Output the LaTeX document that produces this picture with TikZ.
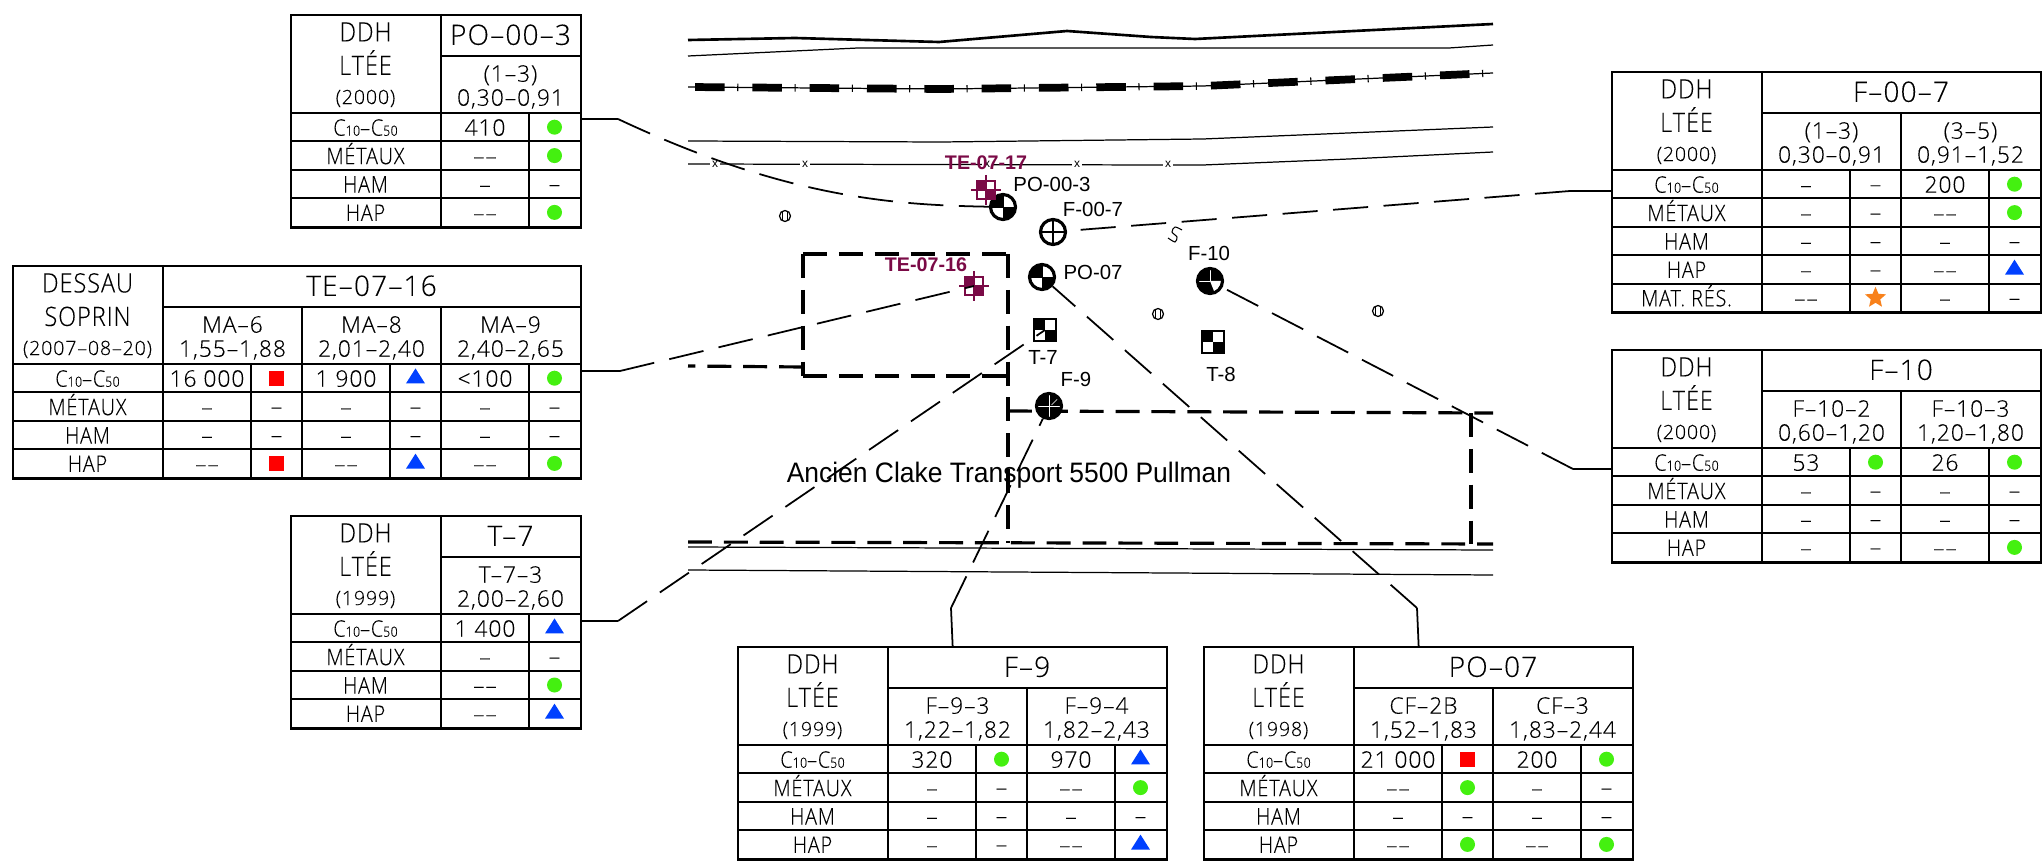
\documentclass[tikz,border=0pt]{standalone}
\usepackage{fontspec}
\setmainfont{Liberation Sans}
\newfontfamily\cadfont[LetterSpace=4,FakeBold=0.12]{Open Sans Light}
\usetikzlibrary{shapes.geometric}

\definecolor{wellgreen}{HTML}{44F010}
\definecolor{wellblue}{HTML}{0040FF}
\definecolor{wellorange}{HTML}{F8811B}
\definecolor{tecolor}{HTML}{7A0A46}

\tikzset{
    tablebox/.style={rectangle,draw,line width=0.65pt,inner sep=0pt,anchor=north west},
    tabrule/.style={line width=0.55pt},
    bigtxt/.style={inner sep=0pt,text height=5.1pt,text depth=0pt,xscale=0.88,font=\cadfont\fontsize{7.6}{8}\selectfont},
    smalltxt/.style={inner sep=0pt,text height=4pt,text depth=0pt,font=\cadfont\fontsize{5.6}{6}\selectfont},
    titletxt/.style={inner sep=0pt,text height=5.6pt,text depth=0pt,font=\cadfont\fontsize{8}{9}\selectfont},
    rowtxt/.style={inner sep=0pt,text height=4.4pt,text depth=0pt,xscale=0.87,font=\cadfont\fontsize{6.5}{7}\selectfont},
    celltxt/.style={inner sep=0pt,text height=4.4pt,text depth=0pt,font=\cadfont\fontsize{6.5}{7}\selectfont},
    markg/.style={circle,fill=wellgreen,inner sep=0pt,minimum size=1.5mm},
    markb/.style={isosceles triangle,isosceles triangle stretches,shape border rotate=90,fill=wellblue,inner sep=0pt,minimum width=1.9mm,minimum height=1.5mm},
    markr/.style={rectangle,fill=red,inner sep=0pt,minimum size=1.5mm},
    marks/.style={star,star points=5,star point ratio=2.2,fill=wellorange,inner sep=0pt,minimum size=2.2mm},
    markn/.style={celltxt,execute at begin node=–},
    leader/.style={line width=0.5pt,dash pattern=on 10pt off 4.4pt},
    tabline/.style={line width=0.5pt},
    bound/.style={line width=0.9pt,dash pattern=on 6.8pt off 3.4pt},
    thinline/.style={line width=0.35pt},
    wellbase/.style={circle,draw,line width=0.9pt,fill=white,inner sep=0pt,minimum size=2.5mm},
    wellsym/.style={wellbase,
        path picture={\draw[line width=0.4pt] (path picture bounding box.north) -- (path picture bounding box.south)
            (path picture bounding box.west) -- (path picture bounding box.east);}},
    wellfill/.style={wellbase,
        path picture={\fill[black] (path picture bounding box.center) rectangle (path picture bounding box.north west);
            \fill[black] (path picture bounding box.center) rectangle (path picture bounding box.south east);
            \draw[line width=0.2pt] (path picture bounding box.north) -- (path picture bounding box.south)
            (path picture bounding box.west) -- (path picture bounding box.east);}},
    wellthree/.style={wellbase,
        path picture={\fill[black] (path picture bounding box.south west) rectangle (path picture bounding box.north east);
            \fill[white] (path picture bounding box.center) -- (path picture bounding box.east) -- ([xshift=0.5mm]path picture bounding box.south) -- cycle;
            \draw[white,line width=0.15pt] (path picture bounding box.north) -- (path picture bounding box.center)
            (path picture bounding box.west) -- (path picture bounding box.center);}},
    wellcross/.style={wellbase,
        path picture={\fill[black] (path picture bounding box.south west) rectangle (path picture bounding box.north east);
            \draw[white,line width=0.2pt] (path picture bounding box.north) -- (path picture bounding box.south)
            (path picture bounding box.west) -- (path picture bounding box.east);
            \draw[white,line width=0.15pt] (path picture bounding box.center) ++(0.25mm,0.1mm) -- ++(0.6mm,0.6mm);}},
    pitsym/.style={rectangle,draw,line width=0.6pt,inner sep=0pt,minimum size=2.2mm,
        path picture={\fill (path picture bounding box.center) rectangle (path picture bounding box.north west);
            \fill (path picture bounding box.center) rectangle (path picture bounding box.south east);}},
    tesym/.style={rectangle,draw=tecolor,line width=0.5pt,inner sep=0pt,minimum size=1.8mm,
        path picture={\fill[tecolor] (path picture bounding box.center) rectangle (path picture bounding box.north west);
            \fill[tecolor] (path picture bounding box.center) rectangle (path picture bounding box.south east);}},
    maplabel/.style={inner sep=0pt,font=\fontsize{5.8}{6}\selectfont},
    telabel/.style={inner sep=0pt,text=tecolor,font=\bfseries\fontsize{5.6}{7}\selectfont},
    fencex/.style={inner sep=0.5pt,fill=white,font=\fontsize{3.4}{4}\selectfont},
    minisym/.style={circle,draw,line width=0.35pt,inner sep=0pt,minimum size=1.1mm,
        path picture={\draw[line width=0.3pt] ([xshift=-0.25mm]path picture bounding box.north) -- ([xshift=-0.25mm]path picture bounding box.south)
            ([xshift=0.25mm]path picture bounding box.north) -- ([xshift=0.25mm]path picture bounding box.south);}}
}

% grid of one table, left column and row names
\newcommand{\ddhtable}[9]{
    \pgfmathsetmacro\tabw{151+139*#8}
    \pgfmathsetmacro\tabh{99+28.4*#9}
    \node (#1) [tablebox,minimum width=\tabw*0.01cm,minimum height=\tabh*0.01cm] at (#2,#3) {};
    \begin{scope}[shift={(#1.north west)}]
        \draw[tabrule] (151,0) -- (151,\tabh);
        \draw[tabrule] (151,42) -- (\tabw,42);
        \draw[tabrule] (0,99) -- (\tabw,99);
        \foreach \r in {1,...,#9}
            \draw[tabrule] (0,99+28.4*\r) -- (\tabw,99+28.4*\r);
        \node (#1-a) [bigtxt] at (75.5,18.5) {#4};
        \node (#1-b) [bigtxt] at (75.5,52) {#5};
        \node (#1-c) [smalltxt] at (75.5,83) {#6};
        \node (#1-title) [titletxt] at ({(151+\tabw)/2},21) {#7};
        \foreach \lab [count=\r] in {C{\fontsize{4}{4}\selectfont 10}–C{\fontsize{4}{4}\selectfont 50},MÉTAUX,HAM,HAP,MAT. RÉS.} {
            \ifnum\r>#9 \else
                \node (#1-r\r) [rowtxt] at (75.5,99+28.4*\r-13.4) {\lab};
            \fi
        }
    \end{scope}
}

% one sample: table, index, two header lines, value/mark per row
\newcommand{\ddhsample}[5]{
    \begin{scope}[shift={(#1.north west)}]
        \pgfmathsetmacro\sx{151+139*#2}
        \draw[tabrule] (\sx,42) -- (\sx,42 |- #1.south);
        \draw[tabrule] (\sx+88,99) -- (\sx+88,99 |- #1.south);
        \node (#1-s#2a) [celltxt] at (\sx+69.5,60) {#3};
        \node (#1-s#2b) [celltxt] at (\sx+69.5,84) {#4};
        \foreach \val/\m [count=\r] in {#5} {
            \node (#1-s#2v\r) [celltxt] at (\sx+44,99+28.4*\r-13.4) {\val};
            \node (#1-s#2m\r) [mark\m] at (\sx+113.5,99+28.4*\r-14.2) {};
        }
    \end{scope}
}

\begin{document}
\begin{tikzpicture}[x=0.01cm,y=-0.01cm]
    \useasboundingbox (0,0) rectangle (2042,867);

    % road and fence lines
    \draw[line width=0.75pt] (688,40) -- (795,38) -- (939,42) -- (1067,31) -- (1151,37) -- (1195,39) -- (1493,24);
    \draw[thinline] (688,56) -- (858,48) -- (1449,48) -- (1493,45);
    \draw[thinline] (688,87) -- (941,89) -- (1203,86) -- (1493,73);
    \draw[line width=2.2pt,dash pattern=on 8.4pt off 7.9pt,dash phase=-2pt] (688,87) -- (941,89) -- (1203,86) -- (1493,73);
    \draw[line width=2.1pt,dash pattern=on 0.3pt off 16pt,dash phase=-14pt] (688,87) -- (941,89) -- (1203,86) -- (1493,73);
    \draw[thinline] (688,141) -- (941,142) -- (1203,139) -- (1493,127);
    \draw[thinline] (688,164) -- (1166,165) -- (1203,165) -- (1349,159) -- (1493,152);
    \draw[thinline] (688,547) -- (1493,550);
    \draw[thinline] (688,570) -- (1493,575);
    \foreach \x [count=\i] in {715,805,987,1077,1168}
        \node (fence\i) [fencex] at (\x,164.5) {x};

    % dashed limits
    \draw[bound] (803,254) -- (1008,254);
    \draw[bound] (803,254) -- (803,376);
    \draw[bound] (803,376) -- (1008,376);
    \draw[bound] (1008,254) -- (1008,543);
    \draw[bound] (803,367) -- (688,366);
    \draw[bound] (1008,411) -- (1493,413);
    \draw[bound] (1471,413) -- (1471,544);
    \draw[bound] (688,542) -- (1493,544);

    \foreach \x/\y [count=\i] in {785/216,1158/314,1378/311}
        \node (mini\i) [minisym] at (\x,\y) {};
    \draw[line width=0.3pt] plot[smooth] coordinates {(1182,230) (1175,227) (1172,232) (1177,237) (1175,242) (1168,238)};

    % wells
    \node (po003) [wellfill] at (1003,207) {};
    \node (f007) [wellsym] at (1053,232) {};
    \node (po07) [wellfill] at (1042,277) {};
    \node (f10) [wellthree] at (1210,281) {};
    \node (f9) [wellcross] at (1049,406) {};
    \node (t7) [pitsym] at (1045,330) {};
    \node (t8) [pitsym] at (1213,342) {};

    % test pits
    \foreach \n/\x/\y in {te0717/986/190,te0716/974/286} {
        \node (\n) [tesym] at (\x,\y) {};
        \draw[tecolor,line width=0.4pt] (\x-15,\y) -- (\x+15,\y) (\x,\y-15) -- (\x,\y+15);
    }

    \node (lpo003) [maplabel] at (1052,184) {PO-00-3};
    \node (lf007) [maplabel] at (1093,209) {F-00-7};
    \node (lpo07) [maplabel] at (1093,272) {PO-07};
    \node (lf10) [maplabel] at (1209,253) {F-10};
    \node (lt7) [maplabel] at (1043,357) {T-7};
    \node (lt8) [maplabel] at (1221,374) {T-8};
    \node (lf9) [maplabel] at (1076,379) {F-9};
    \node (lte17) [telabel] at (986,163) {TE-07-17};
    \node (lte16) [telabel] at (926,265) {TE-07-16};
    \node (site) [inner sep=0pt,xscale=0.94,font=\fontsize{8}{8}\selectfont] at (1009,475) {Ancien Clake Transport 5500 Pullman};

    % tables
    \ddhtable{tpo003}{290}{14}{DDH}{LTÉE}{(2000)}{PO–00–3}{1}{4}
    \ddhsample{tpo003}{0}{(1–3)}{0,30–0,91}{410/g,––/g,–/n,––/g}

    \ddhtable{tte0716}{12}{265}{DESSAU}{SOPRIN}{(2007–08–20)}{TE–07–16}{3}{4}
    \ddhsample{tte0716}{0}{MA–6}{1,55–1,88}{16 000/r,–/n,–/n,––/r}
    \ddhsample{tte0716}{1}{MA–8}{2,01–2,40}{1 900/b,–/n,–/n,––/b}
    \ddhsample{tte0716}{2}{MA–9}{2,40–2,65}{<100/g,–/n,–/n,––/g}

    \ddhtable{tt7}{290}{515}{DDH}{LTÉE}{(1999)}{T–7}{1}{4}
    \ddhsample{tt7}{0}{T–7–3}{2,00–2,60}{1 400/b,–/n,––/g,––/b}

    \ddhtable{tf007}{1611}{71}{DDH}{LTÉE}{(2000)}{F–00–7}{2}{5}
    \ddhsample{tf007}{0}{(1–3)}{0,30–0,91}{–/n,–/n,–/n,–/n,––/s}
    \ddhsample{tf007}{1}{(3–5)}{0,91–1,52}{200/g,––/g,–/n,––/b,–/n}

    \ddhtable{tf10}{1611}{349}{DDH}{LTÉE}{(2000)}{F–10}{2}{4}
    \ddhsample{tf10}{0}{F–10–2}{0,60–1,20}{53/g,–/n,–/n,–/n}
    \ddhsample{tf10}{1}{F–10–3}{1,20–1,80}{26/g,–/n,–/n,––/g}

    \ddhtable{tf9}{737}{646}{DDH}{LTÉE}{(1999)}{F–9}{2}{4}
    \ddhsample{tf9}{0}{F–9–3}{1,22–1,82}{320/g,–/n,–/n,–/n}
    \ddhsample{tf9}{1}{F–9–4}{1,82–2,43}{970/b,––/g,–/n,––/b}

    \ddhtable{tpo07}{1203}{646}{DDH}{LTÉE}{(1998)}{PO–07}{2}{4}
    \ddhsample{tpo07}{0}{CF–2B}{1,52–1,83}{21 000/r,––/g,–/n,––/g}
    \ddhsample{tpo07}{1}{CF–3}{1,83–2,44}{200/g,–/n,–/n,––/g}

    % connectors
    \coordinate (tpo003out) at (580,119);
    \coordinate (tpo003bend) at (618,119);
    \coordinate (tte0716out) at (580,371);
    \coordinate (tte0716bend) at (620,371);
    \coordinate (tt7out) at (580,621);
    \coordinate (tt7bend) at (618,621);
    \coordinate (tf007out) at (1611,191);
    \coordinate (tf007bend) at (1570,191);
    \coordinate (tf10out) at (1611,469);
    \coordinate (tf10bend) at (1573,469);
    \coordinate (tf9bend) at (951,608);
    \coordinate (tpo07bend) at (1417,608);

    \draw[tabline] (tpo003out) -- (tpo003bend);
    \draw[leader] (tpo003bend) .. controls (790,200) and (900,205) .. (po003);
    \draw[tabline] (tte0716out) -- (tte0716bend);
    \draw[leader] (tte0716bend) -- (te0716.center);
    \draw[tabline] (tt7out) -- (tt7bend);
    \draw[leader] (tt7bend) -- (t7.center);
    \draw[tabline] (tf007out) -- (tf007bend);
    \draw[leader] (tf007bend) -- (f007);
    \draw[tabline] (tf10out) -- (tf10bend);
    \draw[leader] (tf10bend) -- (f10);
    \draw[tabline] (tf9.north) -- (tf9bend);
    \draw[leader] (tf9bend) -- (f9);
    \draw[tabline] (tpo07.north) -- (tpo07bend);
    \draw[leader] (tpo07bend) -- (po07);
\end{tikzpicture}
\end{document}
